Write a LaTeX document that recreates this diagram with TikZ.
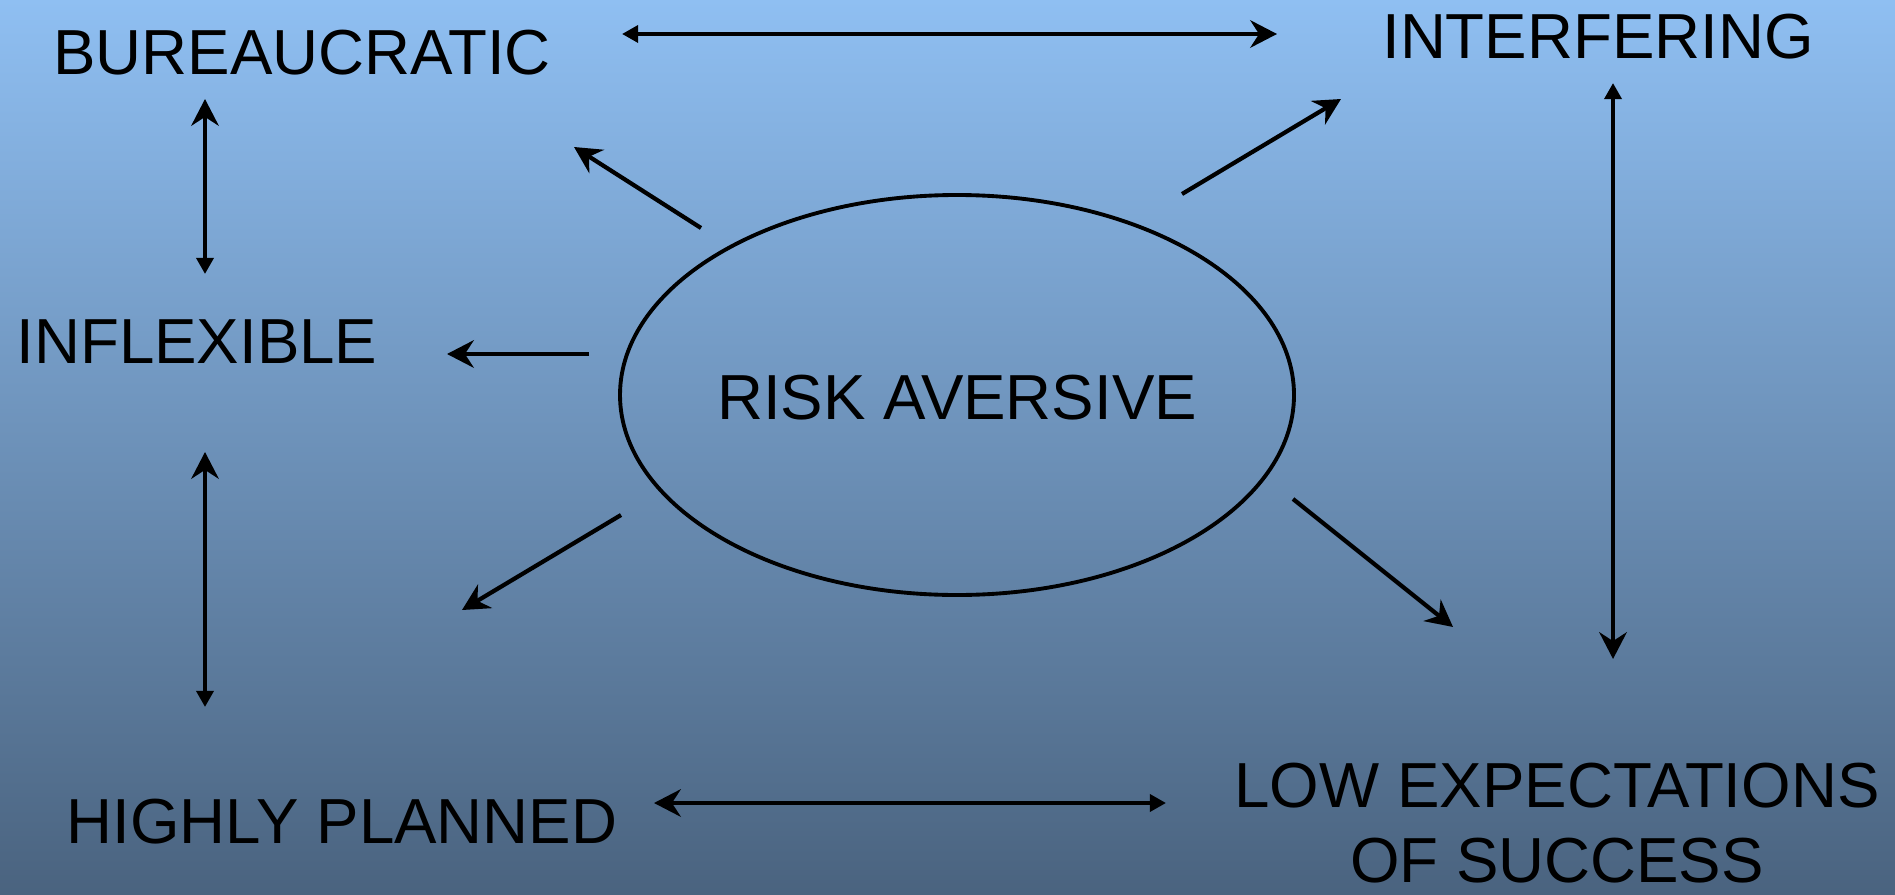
\documentclass[tikz,border=0pt]{standalone}
\usepackage{fontspec}
\setmainfont{Liberation Sans}
\usetikzlibrary{arrows.meta,shapes.geometric}
\definecolor{bgtop}{RGB}{143,191,242}
\definecolor{bgbot}{RGB}{74,99,127}
\tikzset{
  lbl/.style={inner sep=0pt, anchor=base, font=\fontsize{18.1}{21.3}\selectfont},
  bigtip/.tip={Stealth[length=7.6pt,width=7.8pt,inset=2.5pt]},
  smalltip/.tip={Triangle[length=4.6pt,width=4.8pt]},
  conn/.style={line width=1.2pt, draw=black}
}
\begin{document}
\begin{tikzpicture}[x=0.01cm,y=-0.01cm]
\shade[top color=bgtop, bottom color=bgbot] (0,0) rectangle (1895,894);
\useasboundingbox (0,0) rectangle (1895,894);
% ellipse
\draw[line width=1.1pt] (957,395) ellipse [x radius=337, y radius=200];
% labels
\node[lbl] (bur) at (302,75) {BUREAUCRATIC};
\node[lbl] (int) at (1598,59) {INTERFERING};
\node[lbl] (inf) at (197,363) {INFLEXIBLE};
\node[lbl] (hig) at (342,843) {HIGHLY PLANNED};
\node[lbl] (rsk) at (957,419) {RISK AVERSIVE};
\node[lbl, anchor=north, align=center] (low) at (1557,762) {LOW EXPECTATIONS\\OF SUCCESS};
% arrow end points
\coordinate (bur-e) at (622,34);
\coordinate (int-w) at (1277,34);
\coordinate (bur-s) at (205,99);
\coordinate (inf-n) at (205,274);
\coordinate (inf-s) at (205,452);
\coordinate (hig-n) at (205,707);
\coordinate (hig-e) at (654,803);
\coordinate (low-w) at (1166,803);
\coordinate (int-s) at (1613,83);
\coordinate (low-n) at (1613,659);
\coordinate (r-nw) at (701,228);
\coordinate (t-nw) at (574,147);
\coordinate (r-ne) at (1182,194);
\coordinate (t-ne) at (1341,99);
\coordinate (r-w) at (589,354);
\coordinate (t-w) at (447,354);
\coordinate (r-sw) at (621,515);
\coordinate (t-sw) at (462,610);
\coordinate (r-se) at (1293,499);
\coordinate (t-se) at (1453,627);
% double arrows
\draw[conn, smalltip-bigtip] (bur-e) -- (int-w);
\draw[conn, bigtip-smalltip] (bur-s) -- (inf-n);
\draw[conn, bigtip-smalltip] (inf-s) -- (hig-n);
\draw[conn, bigtip-smalltip] (hig-e) -- (low-w);
\draw[conn, smalltip-bigtip] (int-s) -- (low-n);
% radial arrows
\draw[conn, -bigtip] (r-nw) -- (t-nw);
\draw[conn, -bigtip] (r-ne) -- (t-ne);
\draw[conn, -bigtip] (r-w) -- (t-w);
\draw[conn, -bigtip] (r-sw) -- (t-sw);
\draw[conn, -bigtip] (r-se) -- (t-se);
\end{tikzpicture}
\end{document}
